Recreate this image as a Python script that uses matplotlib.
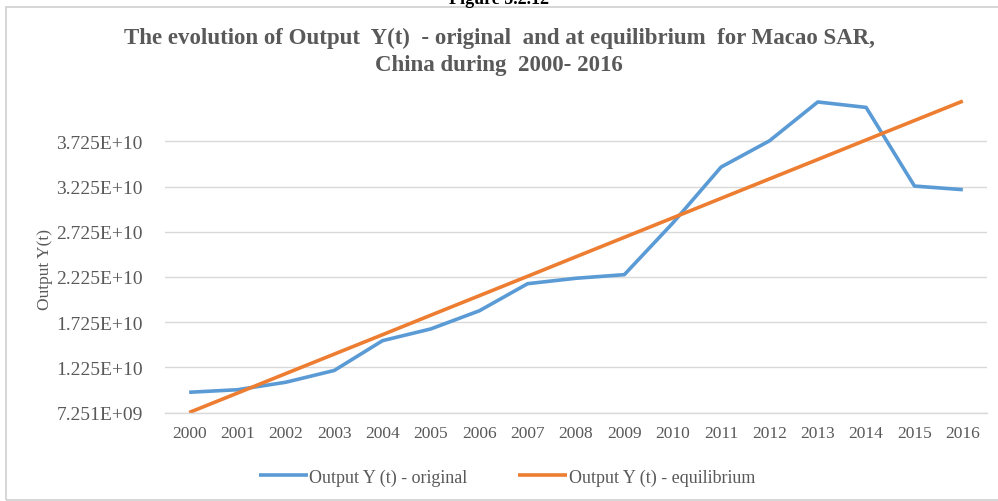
"""Output Y(t) for Macao SAR, China, 2000-2016: original vs. equilibrium."""

import matplotlib
matplotlib.use("Agg")
import matplotlib.pyplot as plt
from matplotlib.patches import Rectangle

# %% data
years = [str(y) for y in range(2000, 2017)]
output_original = [9.49e9, 9.77e9, 10.6e9, 11.9e9, 15.2e9, 16.5e9, 18.5e9,
                   21.5e9, 22.1e9, 22.5e9, 28.2e9, 34.4e9, 37.3e9, 41.6e9,
                   41.0e9, 32.3e9, 31.9e9]
output_equilibrium = [7.25e9, 9.40e9, 11.56e9, 13.71e9, 15.86e9, 18.02e9,
                      20.17e9, 22.32e9, 24.48e9, 26.63e9, 28.78e9, 30.94e9,
                      33.09e9, 35.24e9, 37.40e9, 39.55e9, 41.70e9]
y_ticks = [7.251e9, 1.225e10, 1.725e10, 2.225e10, 2.725e10, 3.225e10, 3.725e10]
y_tick_labels = ["7.251E+09", "1.225E+10", "1.725E+10", "2.225E+10",
                 "2.725E+10", "3.225E+10", "3.725E+10"]

BLUE = "#5B9BD5"
ORANGE = "#ED7D31"
GREY_TXT = "#595959"
GRID = "#D9D9D9"
SERIF = ["Liberation Serif", "DejaVu Serif"]

plt.rcParams["font.family"] = SERIF

# %% figure
W, H = 998, 502
fig = plt.figure(figsize=(W / 100, H / 100), dpi=100)

# chart frame
fig.patches.append(Rectangle((6 / W, 1 - 501 / H), 1.0, (501 - 8) / H,
                             transform=fig.transFigure, fill=False,
                             edgecolor="#D0D0D0", linewidth=1.2))
fig.text(0.5, 1.0, "Figure 5.2.12", ha="center", va="center",
         fontsize=13, fontweight="bold", color="black")

y_min, y_max = 7.251e9, 4.20e10
px_per_unit = 45.2 / 5e9
bottom_px = 413.5
height_px = (y_max - y_min) * px_per_unit
ax = fig.add_axes([165 / W, 1 - bottom_px / H, (987 - 165) / W, height_px / H])

x = list(range(len(years)))
ax.plot(x, output_original, color=BLUE, linewidth=2.6,
        label="Output Y (t) - original", solid_capstyle="butt")
ax.plot(x, output_equilibrium, color=ORANGE, linewidth=2.6,
        label="Output Y (t) - equilibrium", solid_capstyle="butt")

ax.set_xlim(-0.5, len(years) - 0.5)
ax.set_ylim(y_min, y_max)
ax.set_xticks(x)
ax.set_xticklabels(years)
ax.set_yticks(y_ticks)
ax.set_yticklabels(y_tick_labels)
ax.tick_params(axis="x", length=0, labelsize=12.5, colors=GREY_TXT, pad=9)
ax.tick_params(axis="y", length=0, labelsize=14, colors=GREY_TXT, pad=16)
ax.grid(axis="y", color=GRID, linewidth=1)
ax.set_axisbelow(True)
for side in ["left", "right", "top"]:
    ax.spines[side].set_visible(False)
ax.spines["bottom"].set_color(GRID)
ax.spines["bottom"].set_linewidth(1)

fig.text(45 / W, 1 - 270 / H, "Output Y(t)", rotation=90, ha="center",
         va="center", fontsize=12.5, color=GREY_TXT)

fig.text(0.5, 1 - 38 / H,
         "The evolution of Output  Y(t)  - original  and at equilibrium  for Macao SAR,",
         ha="center", va="center", fontsize=16.5, fontweight="bold", color=GREY_TXT)
fig.text(0.5, 1 - 65 / H, "China during  2000- 2016",
         ha="center", va="center", fontsize=16.5, fontweight="bold", color=GREY_TXT)

fig.legend(loc="center", bbox_to_anchor=(507 / W, 1 - 478 / H), ncol=2,
           frameon=False, fontsize=13, labelcolor=GREY_TXT,
           handlelength=2.7, handletextpad=0.1, columnspacing=2.8)

fig.savefig("out.png", dpi=100)
